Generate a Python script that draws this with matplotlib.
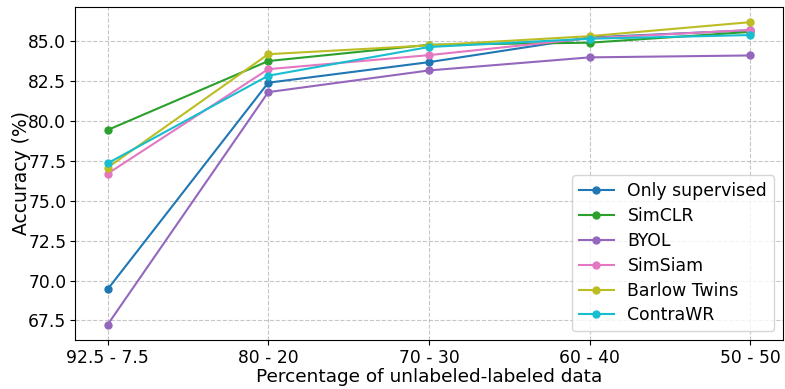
import numpy as np
import matplotlib
matplotlib.use("Agg")
import matplotlib.pyplot as plt

splits = ["92.5 - 7.5", "80 - 20", "70 - 30", "60 - 40", "50 - 50"]

only_supervised = [69.44, 82.41, 83.70, 85.25, 85.70]
simclr = [79.44, 83.77, 84.79, 84.92, 85.60]
byol = [67.22, 81.82, 83.18, 84.00, 84.12]
simsiam = [76.70, 83.26, 84.14, 85.20, 85.72]
barlow_twins = [77.08, 84.20, 84.75, 85.33, 86.21]
contrawr = [77.35, 82.85, 84.65, 85.17, 85.40]

names = ["Only supervised", "SimCLR", "BYOL", "SimSiam", "Barlow Twins", "ContraWR"]
series = [only_supervised, simclr, byol, simsiam, barlow_twins, contrawr]
colors = ["tab:blue", "tab:green", "tab:purple", "tab:pink", "tab:olive", "tab:cyan"]

fig, ax = plt.subplots(figsize=(7.85, 3.89), dpi=100)
x = np.arange(len(splits))
for name, vals, c in zip(names, series, colors):
    ax.plot(x, vals, marker="o", markersize=5, color=c, label=name, linewidth=1.5)

ax.set_xticks(x)
ax.set_xticklabels(splits)
ax.tick_params(axis="both", labelsize=12.3, pad=3)
ax.set_xlabel("Percentage of unlabeled-labeled data", fontsize=13.3, labelpad=1)
ax.set_ylabel("Accuracy (%)", fontsize=13.5, labelpad=-2)
ax.grid(True, linestyle="--", alpha=0.7)
ax.legend(fontsize=12.4, loc="lower right", borderaxespad=0.5, labelspacing=0.4)

fig.subplots_adjust(left=0.096, right=0.997, top=0.982, bottom=0.126)
fig.savefig("out.png")
